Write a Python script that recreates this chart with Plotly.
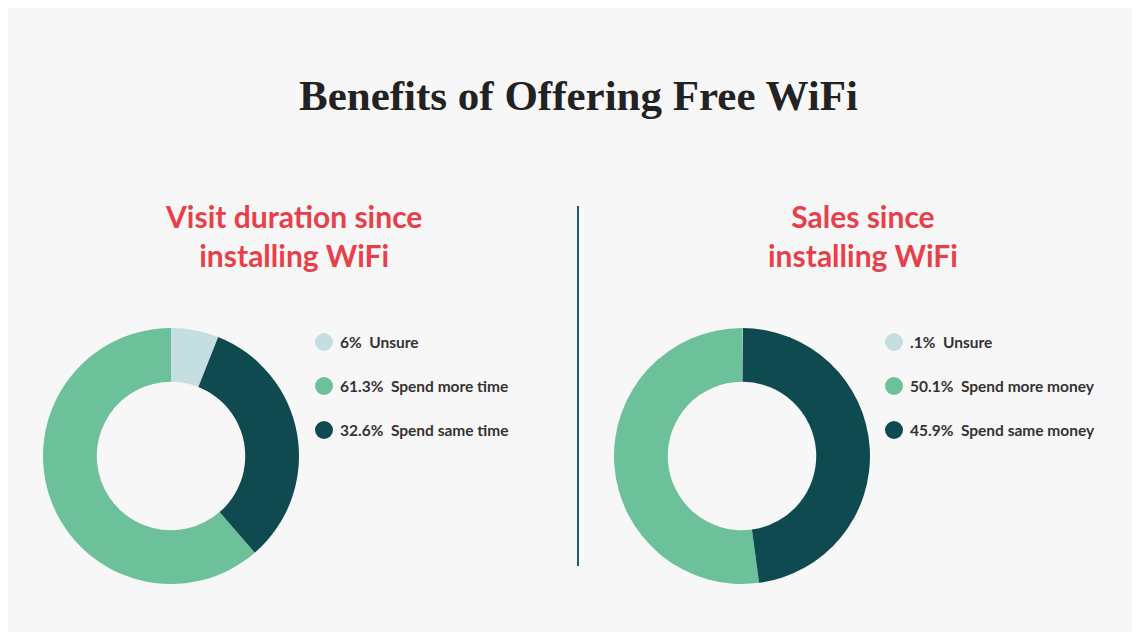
import plotly.graph_objects as go

W, H = 1140, 632
labels = ["Unsure", "Spend more time", "Spend same time"]
visit_vals = [6, 61.3, 32.6]
visit_txt = ["6%", "61.3%", "32.6%"]
sales_labels = ["Unsure", "Spend more money", "Spend same money"]
sales_vals = [0.1, 50.1, 45.9]
sales_txt = [".1%", "50.1%", "45.9%"]
colors = ["#c5dfe0", "#6cc19a", "#0f4a50"]

fig = go.Figure()
for vals, labs, dom in [(visit_vals, labels, [35, 291]), (sales_vals, sales_labels, [606, 862])]:
    fig.add_trace(go.Pie(values=vals, labels=labs, hole=0.58, sort=False,
                         direction="counterclockwise", rotation=0,
                         marker=dict(colors=colors), textinfo="none", showlegend=False,
                         domain=dict(x=[dom[0] / W, dom[1] / W], y=[1 - 576 / H, 1 - 320 / H])))

ann = [dict(text="<b>Benefits of Offering Free WiFi</b>", x=0.5, y=1 - 88 / H,
            font=dict(family="Liberation Serif", size=43, color="#222")),
       dict(text="Visit duration since<br>installing WiFi", x=285 / W, y=1 - 228 / H,
            font=dict(family="Lato", size=30, color="#e8404a", weight="bold")),
       dict(text="Sales since<br>installing WiFi", x=855 / W, y=1 - 228 / H,
            font=dict(family="Lato", size=30, color="#e8404a", weight="bold"))]
shapes = [dict(type="line", xref="paper", yref="paper", x0=570 / W, x1=570 / W,
               y0=1 - 198 / H, y1=1 - 558 / H, line=dict(color="#1f5c66", width=2))]
for lx, txts, labs in [(316, visit_txt, labels), (886, sales_txt, sales_labels)]:
    for i in range(3):
        y = 334 + 44 * i
        shapes.append(dict(type="circle", xref="paper", yref="paper", fillcolor=colors[i], line_width=0,
                           x0=(lx - 9) / W, x1=(lx + 9) / W, y0=1 - (y + 9) / H, y1=1 - (y - 9) / H))
        ann.append(dict(text=txts[i] + "  " + labs[i], x=(lx + 14) / W, y=1 - y / H, xanchor="left",
                        font=dict(family="Lato", size=15.5, color="#333", weight="bold")))
for a in ann:
    a.update(xref="paper", yref="paper", showarrow=False, yanchor="middle")
    a.setdefault("xanchor", "center")

fig.update_layout(width=W, height=H, margin=dict(l=0, r=0, t=0, b=0),
                  paper_bgcolor="#f7f7f7", plot_bgcolor="#f7f7f7",
                  annotations=ann, shapes=shapes)
fig.write_html("out.html")
